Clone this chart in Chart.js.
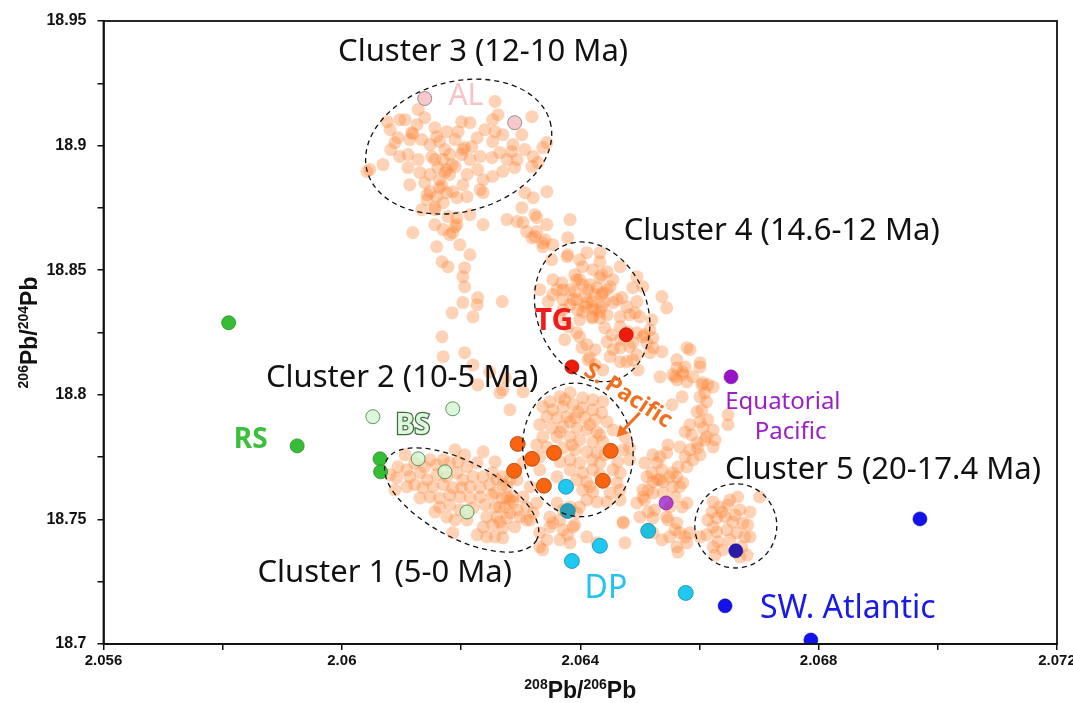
<!DOCTYPE html>
<html>
<head>
<meta charset="utf-8">
<script src="https://cdn.jsdelivr.net/npm/chart.js@4.4.1/dist/chart.umd.min.js"></script>
<style>
  html, body { margin: 0; padding: 0; background: #fff; }
  #wrap { width: 1073px; height: 703px; }
</style>
</head>
<body>
<div id="wrap"><canvas id="c" width="1073" height="703"></canvas></div>
<script>
// reference samples
const rsPts = [[2.0581, 18.8289], [2.05925, 18.7795], [2.06064, 18.7743], [2.06065, 18.7691]];
const bsPts = [[2.06052, 18.7912], [2.06186, 18.7944], [2.06128, 18.7743], [2.06173, 18.7691], [2.0621, 18.753]];
const alPts = [[2.06139, 18.9189], [2.0629, 18.9092]];
const tgPts = [[2.06477, 18.8241], [2.06386, 18.8112]];
const spacPts = [[2.06295, 18.7803], [2.06289, 18.7695], [2.06319, 18.7743], [2.06356, 18.7767],
                 [2.06339, 18.7635], [2.06451, 18.7775], [2.06438, 18.7655]];
const dpPts = [[2.06376, 18.7631], [2.06379, 18.7534], [2.06386, 18.7333], [2.06433, 18.7394],
               [2.06514, 18.7454], [2.06577, 18.7205]];
const eqPts = [[2.06653, 18.8072], [2.06544, 18.7566]];
const swaPts = [[2.0697, 18.7502], [2.06643, 18.7153], [2.06787, 18.7016], [2.06661, 18.7374]];

// Fe-Mn crust record (orange cloud)
const cloudC3 = [
  [2.06257, 18.9177], [2.06319, 18.9116], [2.06253, 18.9104], [2.06262, 18.9124], [2.06128, 18.9145],
  [2.06139, 18.9112], [2.06097, 18.9104], [2.06106, 18.9104], [2.06076, 18.9096], [2.06081, 18.9064],
  [2.06117, 18.9052], [2.06126, 18.9084], [2.06156, 18.9072], [2.06159, 18.9036], [2.06176, 18.9056],
  [2.06195, 18.9056], [2.06201, 18.9096], [2.06215, 18.9092], [2.06257, 18.9056], [2.0627, 18.9044],
  [2.06302, 18.9044], [2.06287, 18.9004], [2.06253, 18.9016], [2.06094, 18.9032], [2.06114, 18.9024],
  [2.06134, 18.9024], [2.06148, 18.9004], [2.06164, 18.9016], [2.06203, 18.8984], [2.06218, 18.8996],
  [2.06082, 18.8984], [2.06097, 18.8956], [2.06111, 18.8964], [2.06128, 18.8944], [2.06151, 18.8956],
  [2.0617, 18.8944], [2.06176, 18.8904], [2.0619, 18.8916], [2.06201, 18.8964], [2.06215, 18.8944],
  [2.06232, 18.8956], [2.06228, 18.8904], [2.06252, 18.8952], [2.06265, 18.8972], [2.06277, 18.8944],
  [2.06285, 18.8976], [2.06294, 18.8944], [2.0629, 18.8912], [2.0627, 18.8896], [2.06253, 18.8876],
  [2.06237, 18.8863], [2.06321, 18.8956], [2.06344, 18.9012], [2.06337, 18.8992], [2.06319, 18.8916],
  [2.06329, 18.8932], [2.06047, 18.8904], [2.06069, 18.8924], [2.06111, 18.8912], [2.06131, 18.8892],
  [2.06139, 18.8851], [2.06148, 18.8884], [2.06161, 18.8912], [2.06164, 18.8863], [2.06181, 18.8884],
  [2.06203, 18.8843], [2.0621, 18.8884], [2.06148, 18.8815], [2.06164, 18.8831], [2.06176, 18.8811],
  [2.06186, 18.8815], [2.06193, 18.8791], [2.0621, 18.8795], [2.06143, 18.8783], [2.06159, 18.8795],
  [2.0617, 18.8771], [2.06134, 18.8743], [2.06156, 18.8743], [2.06215, 18.8723], [2.06042, 18.8896],
  [2.06119, 18.9048], [2.06206, 18.8992], [2.06173, 18.8892], [2.06185, 18.8924], [2.06168, 18.8839],
  [2.06089, 18.9012], [2.0619, 18.9024], [2.0624, 18.9064], [2.06227, 18.9032], [2.06307, 18.8984],
  [2.06232, 18.8823], [2.06114, 18.8843], [2.06181, 18.8964], [2.06156, 18.8944], [2.06173, 18.8984]
];
const cloudMid = [
  [2.06119, 18.8651], [2.06156, 18.8683], [2.0617, 18.8663], [2.06181, 18.8643], [2.0619, 18.8675],
  [2.06193, 18.8711], [2.06237, 18.8683], [2.06159, 18.8594], [2.06168, 18.8534], [2.06178, 18.8514],
  [2.06206, 18.851], [2.06203, 18.8474], [2.06206, 18.8434], [2.06228, 18.839], [2.06227, 18.8361],
  [2.06203, 18.837], [2.06185, 18.8329], [2.06269, 18.8374], [2.0622, 18.8313], [2.06277, 18.8703],
  [2.06294, 18.8695], [2.06304, 18.8691], [2.06307, 18.8811], [2.06321, 18.8791], [2.06302, 18.8751],
  [2.06327, 18.8711], [2.06344, 18.8815], [2.06344, 18.8683], [2.06327, 18.8655], [2.06319, 18.863],
  [2.06341, 18.8622], [2.06337, 18.8594], [2.06354, 18.8602], [2.06143, 18.8803], [2.06156, 18.8751],
  [2.06178, 18.8715], [2.06193, 18.8683], [2.06186, 18.8651], [2.06168, 18.8233], [2.0617, 18.8153],
  [2.06206, 18.8169], [2.0622, 18.812], [2.06237, 18.8811], [2.0631, 18.8655], [2.06379, 18.863],
  [2.06383, 18.8703], [2.06324, 18.8723], [2.06198, 18.8602], [2.06215, 18.8562], [2.06248, 18.8092],
  [2.06274, 18.8068], [2.06228, 18.804], [2.06265, 18.8008]
];
const cloudC4 = [
  [2.06324, 18.8635], [2.06337, 18.861], [2.06379, 18.8562], [2.06411, 18.857], [2.06433, 18.8534],
  [2.06467, 18.8514], [2.06495, 18.8474], [2.06404, 18.8514], [2.06399, 18.8542], [2.06445, 18.8494],
  [2.06354, 18.8462], [2.06369, 18.845], [2.06361, 18.8422], [2.06383, 18.8422], [2.06399, 18.8462],
  [2.06404, 18.8442], [2.06413, 18.8422], [2.06388, 18.8382], [2.06371, 18.8382], [2.06354, 18.8402],
  [2.06433, 18.847], [2.06438, 18.841], [2.0645, 18.8434], [2.0642, 18.8374], [2.06408, 18.8353],
  [2.06396, 18.8341], [2.06425, 18.8341], [2.06441, 18.8374], [2.06462, 18.8382], [2.06478, 18.8353],
  [2.06495, 18.8374], [2.06332, 18.8422], [2.06346, 18.8374], [2.06371, 18.8341], [2.06399, 18.8301],
  [2.0642, 18.8309], [2.06433, 18.8309], [2.06441, 18.8269], [2.06467, 18.8313], [2.06483, 18.8321],
  [2.065, 18.8313], [2.06467, 18.8273], [2.0648, 18.8253], [2.06495, 18.8249], [2.06505, 18.8233],
  [2.06399, 18.8233], [2.06411, 18.8201], [2.06425, 18.8181], [2.06445, 18.8213], [2.06455, 18.8181],
  [2.06467, 18.8221], [2.0645, 18.8153], [2.06483, 18.8193], [2.06495, 18.8161], [2.06416, 18.8149],
  [2.06425, 18.812], [2.06438, 18.81], [2.06478, 18.8133], [2.06497, 18.81], [2.06545, 18.8349],
  [2.0652, 18.8301], [2.06517, 18.8261], [2.06512, 18.8209], [2.06579, 18.8189], [2.06601, 18.8112],
  [2.06562, 18.8108], [2.06559, 18.8072], [2.06534, 18.8072], [2.06604, 18.804], [2.06623, 18.8032],
  [2.06579, 18.8052], [2.06537, 18.8394], [2.06455, 18.8462], [2.06488, 18.843], [2.06505, 18.8434],
  [2.06436, 18.8482], [2.06428, 18.843], [2.06445, 18.8422], [2.06371, 18.8422], [2.06391, 18.8414],
  [2.06394, 18.8462], [2.06421, 18.8502], [2.06352, 18.8542], [2.06378, 18.8554], [2.06433, 18.857],
  [2.06394, 18.8382], [2.06411, 18.837], [2.06421, 18.8353], [2.06436, 18.8402], [2.06436, 18.8353],
  [2.06455, 18.837], [2.0647, 18.839], [2.06404, 18.8333], [2.06421, 18.8313], [2.06433, 18.8333],
  [2.06445, 18.8321], [2.06453, 18.8241], [2.06467, 18.8189], [2.06488, 18.8209], [2.06522, 18.8229],
  [2.06522, 18.8189], [2.06537, 18.8173], [2.06413, 18.8141], [2.06403, 18.8189], [2.06562, 18.8141],
  [2.06572, 18.8092], [2.06589, 18.8072], [2.06374, 18.8221], [2.06394, 18.8249], [2.06379, 18.8273],
  [2.06366, 18.8313], [2.06391, 18.8482], [2.06416, 18.8442], [2.06383, 18.8361], [2.06408, 18.8394],
  [2.06425, 18.8402]
];
const cloudRight = [
  [2.06492, 18.8329], [2.06508, 18.8241], [2.06584, 18.8181], [2.06555, 18.808], [2.06572, 18.808],
  [2.06606, 18.8048], [2.06614, 18.804], [2.06609, 18.8008], [2.06571, 18.7992], [2.06604, 18.794],
  [2.06614, 18.79], [2.06601, 18.7892], [2.06554, 18.796], [2.06584, 18.788], [2.06576, 18.7851],
  [2.06587, 18.7839], [2.06606, 18.7867], [2.06623, 18.7859], [2.06626, 18.7819], [2.06609, 18.7819],
  [2.06596, 18.7807], [2.06584, 18.7779], [2.06567, 18.7791], [2.06576, 18.7751], [2.06589, 18.7739],
  [2.06601, 18.7759], [2.06579, 18.7711], [2.06564, 18.7711], [2.06555, 18.7687], [2.06534, 18.7751],
  [2.06545, 18.7767], [2.06522, 18.7759], [2.06508, 18.7727], [2.06529, 18.7727], [2.06537, 18.7699],
  [2.0652, 18.7687], [2.06522, 18.7651], [2.06539, 18.7651], [2.06514, 18.7618], [2.06508, 18.7578],
  [2.06522, 18.7606], [2.06555, 18.7631], [2.06559, 18.759], [2.0655, 18.755], [2.06571, 18.755],
  [2.06514, 18.753], [2.06522, 18.7506], [2.06547, 18.7498], [2.06562, 18.7486], [2.06559, 18.7458],
  [2.06576, 18.743], [2.06522, 18.7446], [2.06537, 18.7418], [2.06562, 18.739], [2.06472, 18.749],
  [2.06648, 18.792], [2.06648, 18.788], [2.06601, 18.8129], [2.06623, 18.7791], [2.06612, 18.7831],
  [2.06562, 18.7671], [2.06567, 18.7631], [2.06579, 18.7566], [2.06567, 18.7446], [2.06579, 18.7406],
  [2.06564, 18.7369], [2.06467, 18.8133], [2.06488, 18.8141], [2.06517, 18.8169], [2.06576, 18.8112],
  [2.06562, 18.806], [2.06601, 18.7992], [2.06596, 18.7932], [2.06612, 18.7972], [2.06597, 18.7787],
  [2.06547, 18.7799], [2.06512, 18.7671], [2.06529, 18.7659], [2.06505, 18.7618], [2.06539, 18.7606],
  [2.06495, 18.7566], [2.06525, 18.7538], [2.06545, 18.751], [2.065, 18.751], [2.06475, 18.7406],
  [2.0655, 18.743], [2.06584, 18.7446], [2.06505, 18.759], [2.06534, 18.7659], [2.0655, 18.7671],
  [2.06572, 18.7647]
];
const cloudC2 = [
  [2.0627, 18.802], [2.06304, 18.8012], [2.06349, 18.7972], [2.06366, 18.7992], [2.06383, 18.8008],
  [2.06404, 18.7988], [2.06421, 18.798], [2.06438, 18.7972], [2.06337, 18.7952], [2.06354, 18.794],
  [2.06371, 18.7952], [2.06388, 18.796], [2.06404, 18.7948], [2.06421, 18.794], [2.06436, 18.7928],
  [2.06344, 18.7912], [2.06361, 18.7908], [2.06378, 18.7912], [2.06391, 18.7908], [2.06408, 18.7908],
  [2.06425, 18.79], [2.06445, 18.7892], [2.06332, 18.788], [2.06352, 18.7867], [2.06371, 18.7871],
  [2.06394, 18.7867], [2.06411, 18.7859], [2.06428, 18.7851], [2.06455, 18.7859], [2.06337, 18.7831],
  [2.06361, 18.7831], [2.06383, 18.7831], [2.06399, 18.7819], [2.06421, 18.7811], [2.06438, 18.7811],
  [2.06475, 18.7831], [2.06327, 18.7799], [2.06344, 18.7791], [2.06371, 18.7787], [2.06391, 18.7779],
  [2.06411, 18.7771], [2.06428, 18.7767], [2.06472, 18.7779], [2.06483, 18.7787], [2.06332, 18.7751],
  [2.06366, 18.7731], [2.06383, 18.7739], [2.06399, 18.7727], [2.0642, 18.7739], [2.06463, 18.7731],
  [2.06483, 18.7739], [2.06304, 18.7727], [2.06383, 18.7699], [2.06404, 18.7687], [2.06421, 18.7699],
  [2.06455, 18.7699], [2.06467, 18.7687], [2.06394, 18.7659], [2.06411, 18.7651], [2.06462, 18.7647],
  [2.06361, 18.7671], [2.06404, 18.7618], [2.06421, 18.761], [2.0645, 18.7606], [2.06467, 18.7618],
  [2.06411, 18.7578], [2.06428, 18.757], [2.06445, 18.757], [2.06399, 18.755], [2.06467, 18.7578],
  [2.06361, 18.7566], [2.06371, 18.7538], [2.06394, 18.7526], [2.06349, 18.751], [2.06366, 18.7498],
  [2.06349, 18.747], [2.06371, 18.7458], [2.06388, 18.747], [2.06332, 18.7446], [2.06344, 18.7418],
  [2.06366, 18.7418], [2.06383, 18.7406], [2.06337, 18.7378], [2.06411, 18.743], [2.06428, 18.7406],
  [2.06472, 18.7486], [2.06282, 18.794], [2.06433, 18.7727], [2.06416, 18.7631], [2.06374, 18.798],
  [2.06396, 18.7932], [2.06416, 18.788], [2.06366, 18.7851], [2.06386, 18.7799], [2.06433, 18.7839],
  [2.06357, 18.7759], [2.06433, 18.7679], [2.06441, 18.7759], [2.06383, 18.7892], [2.06316, 18.7631],
  [2.06304, 18.759], [2.06327, 18.7566], [2.06321, 18.7526], [2.06294, 18.7659], [2.06332, 18.7699],
  [2.0626, 18.7659], [2.0627, 18.7639], [2.06257, 18.7606], [2.06277, 18.759], [2.06287, 18.757],
  [2.06265, 18.755], [2.06282, 18.7526], [2.06299, 18.751], [2.0631, 18.7498], [2.06265, 18.749],
  [2.0629, 18.747], [2.06257, 18.743], [2.06354, 18.7486], [2.06379, 18.7438], [2.06391, 18.7478],
  [2.06332, 18.739], [2.06383, 18.755]
];
const cloudC1 = [
  [2.06094, 18.7711], [2.06109, 18.7699], [2.06122, 18.7727], [2.06139, 18.7711], [2.06148, 18.7739],
  [2.06159, 18.7719], [2.0617, 18.7739], [2.06181, 18.7727], [2.06195, 18.7731], [2.0621, 18.7711],
  [2.06227, 18.7727], [2.06237, 18.7771], [2.06257, 18.7731], [2.06114, 18.7671], [2.06131, 18.7687],
  [2.06143, 18.7659], [2.06159, 18.7679], [2.06176, 18.7671], [2.06193, 18.7687], [2.06203, 18.7659],
  [2.0622, 18.7671], [2.06237, 18.7671], [2.06253, 18.7687], [2.0627, 18.7671], [2.06109, 18.7631],
  [2.06122, 18.7639], [2.06136, 18.7627], [2.06153, 18.7631], [2.0617, 18.7639], [2.06186, 18.7627],
  [2.06201, 18.7627], [2.06215, 18.7631], [2.06232, 18.7627], [2.06248, 18.7639], [2.06277, 18.7631],
  [2.06131, 18.7586], [2.06148, 18.759], [2.06164, 18.7586], [2.06181, 18.7598], [2.06198, 18.759],
  [2.06215, 18.7586], [2.06232, 18.759], [2.06252, 18.7598], [2.06269, 18.7586], [2.06287, 18.759],
  [2.06164, 18.755], [2.06181, 18.7558], [2.06198, 18.7538], [2.0622, 18.7546], [2.0624, 18.7558],
  [2.06257, 18.755], [2.06274, 18.755], [2.06294, 18.7538], [2.0631, 18.755], [2.06243, 18.751],
  [2.0626, 18.751], [2.06277, 18.7506], [2.06316, 18.7498], [2.06237, 18.747], [2.06253, 18.7478],
  [2.0627, 18.7466], [2.06243, 18.743], [2.0627, 18.7426], [2.06186, 18.7446], [2.06092, 18.7667],
  [2.06176, 18.751], [2.06282, 18.7578], [2.06081, 18.7679], [2.06106, 18.7759], [2.06089, 18.7618],
  [2.0621, 18.7498], [2.06227, 18.7438], [2.06156, 18.753], [2.0619, 18.7498], [2.06206, 18.7759],
  [2.0619, 18.7779], [2.06282, 18.7659]
];
const cloudC5 = [
  [2.06623, 18.757], [2.06634, 18.755], [2.06648, 18.7558], [2.06664, 18.759], [2.06668, 18.7538],
  [2.06685, 18.753], [2.06701, 18.759], [2.06614, 18.7498], [2.06629, 18.7506], [2.06643, 18.751],
  [2.06656, 18.749], [2.06673, 18.7486], [2.06681, 18.7478], [2.06612, 18.7438], [2.06629, 18.745],
  [2.06646, 18.7458], [2.06663, 18.7446], [2.06676, 18.743], [2.06601, 18.743], [2.06631, 18.741],
  [2.06651, 18.7418], [2.06623, 18.739], [2.06639, 18.7378], [2.06671, 18.739], [2.06626, 18.7357],
  [2.0668, 18.7357], [2.06668, 18.7349], [2.06685, 18.743], [2.06623, 18.747], [2.06651, 18.7578],
  [2.06638, 18.753], [2.06621, 18.753], [2.0666, 18.7518]
];
const cloudPts = [].concat(cloudC3, cloudMid, cloudC4, cloudRight, cloudC2, cloudC1, cloudC5);

// dashed outlines: centre, half-axes in data units, tilt in degrees
const clusterRings = [
  { c: [2.06196, 18.8996], a: 0.00159, b: 0.0261, rot: -15 },
  { c: [2.0642, 18.8333], a: 0.000923, b: 0.0289, rot: -22 },
  { c: [2.06396, 18.7779], a: 0.000923, b: 0.0269, rot: -8 },
  { c: [2.06201, 18.7578], a: 0.001426, b: 0.01526, rot: 28 },
  { c: [2.06661, 18.7474], a: 0.000688, b: 0.0169, rot: 0 }
];

const xTickLabels = ['2.056', '2.06', '2.064', '2.068', '2.072'];
const yTickLabels = ['18.7', '18.75', '18.8', '18.85', '18.9', '18.95'];

const toXY = arr => arr.map(p => ({ x: p[0], y: p[1] }));

const annot = {
  id: 'annot',
  afterDatasetsDraw(chart) {
    const ctx = chart.ctx, xs = chart.scales.x, ys = chart.scales.y;
    const X = v => xs.getPixelForValue(v), Y = v => ys.getPixelForValue(v);

    ctx.save();
    ctx.strokeStyle = '#111';
    ctx.lineWidth = 1.3;
    ctx.setLineDash([5, 4]);
    clusterRings.forEach(r => {
      const cx = X(r.c[0]), cy = Y(r.c[1]);
      const rx = Math.abs(X(r.c[0] + r.a) - cx), ry = Math.abs(Y(r.c[1] + r.b) - cy);
      ctx.beginPath();
      ctx.ellipse(cx, cy, rx, ry, r.rot * Math.PI / 180, 0, Math.PI * 2);
      ctx.stroke();
    });
    ctx.restore();

    const text = (s, xv, yv, font, color, rot, stroke) => {
      ctx.save();
      ctx.translate(X(xv), Y(yv));
      if (rot) ctx.rotate(rot * Math.PI / 180);
      ctx.font = font;
      ctx.textAlign = 'center';
      ctx.textBaseline = 'middle';
      if (stroke) {
        ctx.lineWidth = 2.5;
        ctx.strokeStyle = stroke;
        ctx.strokeText(s, 0, 0);
      }
      ctx.fillStyle = color;
      ctx.fillText(s, 0, 0);
      ctx.restore();
    };

    const big = '31px "Noto Sans"';
    text('Cluster 3 (12-10 Ma)', 2.06237, 18.9373, big, '#111');
    text('Cluster 4 (14.6-12 Ma)', 2.06738, 18.8655, big, '#111');
    text('Cluster 2 (10-5 Ma)', 2.06101, 18.8068, big, '#111');
    text('Cluster 5 (20-17.4 Ma)', 2.06908, 18.7699, big, '#111');
    text('Cluster 1 (5-0 Ma)', 2.06072, 18.7285, big, '#111');

    text('AL', 2.06208, 18.9197, '30px "Noto Sans"', '#f5c4c6');
    text('TG', 2.06356, 18.8293, 'bold 30px "Noto Sans"', '#ee1c1c');
    text('RS', 2.05847, 18.7819, 'bold 28px "Noto Sans"', '#3cc03c');
    text('BS', 2.06119, 18.7875, 'bold 28px "Noto Sans"', '#dff7df', 0, '#3f6e3f');
    text('Equatorial', 2.0674, 18.7972, '24px "Noto Sans"', '#9b1fc9');
    text('Pacific', 2.06753, 18.7851, '24px "Noto Sans"', '#9b1fc9');
    text('DP', 2.06443, 18.7221, '32px "Noto Sans"', '#22c4ee');
    text('SW. Atlantic', 2.06849, 18.714, '32px "Noto Sans"', '#1a1ae6');
    text('S. Pacific', 2.0648, 18.7996, 'bold 23px "Noto Sans"', '#f07020', 33);

    // arrow towards cluster 2
    const ax0 = X(2.065), ay0 = Y(18.7928), ax1 = X(2.06461), ay1 = Y(18.7831);
    const ang = Math.atan2(ay1 - ay0, ax1 - ax0);
    ctx.save();
    ctx.strokeStyle = '#f07020';
    ctx.fillStyle = '#f07020';
    ctx.lineWidth = 3;
    ctx.beginPath();
    ctx.moveTo(ax0, ay0);
    ctx.lineTo(ax1 - 7 * Math.cos(ang), ay1 - 7 * Math.sin(ang));
    ctx.stroke();
    ctx.beginPath();
    ctx.moveTo(ax1, ay1);
    ctx.lineTo(ax1 - 11 * Math.cos(ang) + 6 * Math.sin(ang), ay1 - 11 * Math.sin(ang) - 6 * Math.cos(ang));
    ctx.lineTo(ax1 - 11 * Math.cos(ang) - 6 * Math.sin(ang), ay1 - 11 * Math.sin(ang) + 6 * Math.cos(ang));
    ctx.closePath();
    ctx.fill();
    ctx.restore();
  },
  afterDraw(chart) {
    const ctx = chart.ctx, a = chart.chartArea;
    ctx.save();
    ctx.strokeStyle = '#111';
    ctx.lineWidth = 1.8;
    ctx.strokeRect(a.left, a.top, a.right - a.left, a.bottom - a.top);

    // axis titles with superscripts
    const title = (parts, cx, cy, rot) => {
      ctx.save();
      ctx.translate(cx, cy);
      if (rot) ctx.rotate(rot);
      ctx.fillStyle = '#111';
      ctx.textBaseline = 'alphabetic';
      let w = 0;
      parts.forEach(p => { ctx.font = p[1] ? 'bold 14px "Liberation Sans"' : 'bold 23px "Liberation Sans"'; w += ctx.measureText(p[0]).width; });
      let x = -w / 2;
      parts.forEach(p => {
        ctx.font = p[1] ? 'bold 14px "Liberation Sans"' : 'bold 23px "Liberation Sans"';
        ctx.fillText(p[0], x, p[1] ? -1 : 8);
        x += ctx.measureText(p[0]).width;
      });
      ctx.restore();
    };
    title([['208', 1], ['Pb/', 0], ['206', 1], ['Pb', 0]], (a.left + a.right) / 2, 690, 0);
    title([['206', 1], ['Pb/', 0], ['204', 1], ['Pb', 0]], 29, (a.top + a.bottom) / 2, -Math.PI / 2);
    ctx.restore();
  }
};

const ctx = document.getElementById('c').getContext('2d');
const xTickFont = { family: '"Liberation Sans", Arial, sans-serif', weight: 'bold', size: 15 };
const yTickFont = { family: '"Liberation Sans", Arial, sans-serif', weight: 'bold', size: 16 };

new Chart(ctx, {
  type: 'scatter',
  data: {
    datasets: [
      { label: 'RS', data: toXY(rsPts), pointRadius: 7, backgroundColor: '#36bd36', borderColor: '#2a8a2a', borderWidth: 0.8 },
      { label: 'AL', data: toXY(alPts), pointRadius: 7, backgroundColor: '#f8c8cc', borderColor: '#777', borderWidth: 0.8 },
      { label: 'TG', data: toXY(tgPts), pointRadius: 7, backgroundColor: '#ee1a0a', borderColor: '#b01000', borderWidth: 0.8 },
      { label: 'S. Pacific', data: toXY(spacPts), pointRadius: 7.5, backgroundColor: '#fa6410', borderColor: '#a84808', borderWidth: 0.8 },
      { label: 'DP', data: toXY(dpPts), pointRadius: 7.5,
        backgroundColor: ['#1ec8f0', '#2a9fb4', '#1ec8f0', '#1ec8f0', '#22bede', '#1ec8f0'], borderColor: '#1a8aa8', borderWidth: 0.8 },
      { label: 'Equatorial Pacific', data: toXY(eqPts), pointRadius: 7,
        backgroundColor: ['#9912c8', 'rgba(150,20,200,0.75)'], borderColor: '#6a1090', borderWidth: 0.6 },
      { label: 'SW. Atlantic', data: toXY(swaPts), pointRadius: 7,
        backgroundColor: ['#1212ee', '#1212ee', '#1212ee', '#2a1aa8'], borderColor: '#0a0a90', borderWidth: 0.6 },
      { label: 'BS', data: toXY(bsPts), pointRadius: 7, backgroundColor: 'rgba(205,245,205,0.72)', borderColor: '#3f7a3f', borderWidth: 0.8 },
      { label: 'Crust', data: toXY(cloudPts), pointRadius: 6.5, backgroundColor: 'rgba(255,130,50,0.36)', borderWidth: 0 }
    ]
  },
  options: {
    animation: false,
    responsive: false,
    events: [],
    layout: { padding: { left: 0, right: 16, top: 21, bottom: 0 } },
    plugins: { legend: { display: false }, tooltip: { enabled: false } },
    scales: {
      x: {
        type: 'linear', min: 2.056, max: 2.072,
        afterFit: s => { s.height = 59; s.paddingLeft = 0; s.paddingRight = 0; },
        afterBuildTicks: s => { s.ticks = []; for (let i = 0; i <= 8; i++) s.ticks.push({ value: 2.056 + i * 0.002 }); },
        ticks: {
          color: '#111', font: xTickFont, padding: 2, maxRotation: 0, autoSkip: false,
          callback: (v, i) => (i % 2 === 0 ? xTickLabels[i / 2] : '')
        },
        grid: { drawOnChartArea: false, drawTicks: true, tickLength: 6, color: '#111', lineWidth: 1.5 },
        border: { display: true, color: '#111', width: 1.8 }
      },
      y: {
        type: 'linear', min: 18.7, max: 18.95,
        afterFit: s => { s.width = 103.5; s.paddingTop = 0; s.paddingBottom = 0; },
        afterBuildTicks: s => { s.ticks = []; for (let i = 0; i <= 10; i++) s.ticks.push({ value: 18.7 + i * 0.025 }); },
        ticks: {
          color: '#111', font: yTickFont, padding: 11, autoSkip: false,
          callback: (v, i) => (i % 2 === 0 ? yTickLabels[i / 2] : '')
        },
        grid: { drawOnChartArea: false, drawTicks: true, tickLength: 6, color: '#111', lineWidth: 1.5 },
        border: { display: true, color: '#111', width: 1.8 }
      }
    }
  },
  plugins: [annot]
});
</script>
</body>
</html>
